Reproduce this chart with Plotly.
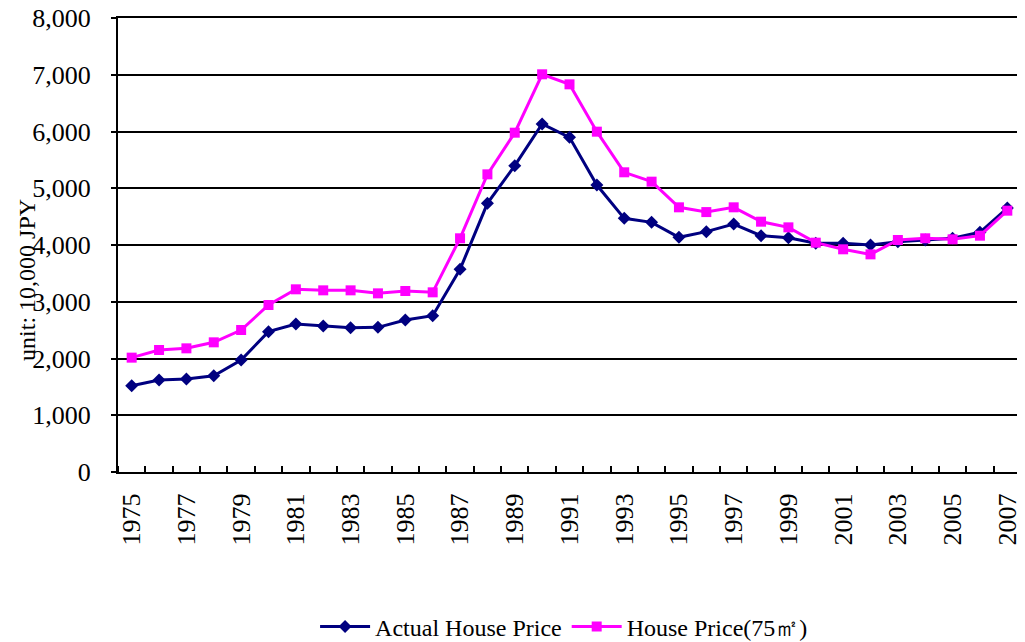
import plotly.graph_objects as go

years = list(range(1975, 2008))
actual_price = [1520, 1621, 1639, 1697, 1974, 2473, 2608, 2573, 2543, 2549, 2678, 2755,
                3571, 4734, 5398, 6132, 5897, 5057, 4470, 4399, 4135, 4235, 4370, 4164,
                4129, 4030, 4030, 4000, 4059, 4088, 4118, 4224, 4650]
house_price_75 = [2015, 2150, 2179, 2285, 2502, 2943, 3219, 3201, 3201, 3148, 3189, 3166,
                  4118, 5245, 5979, 7008, 6831, 5997, 5281, 5116, 4664, 4580, 4664, 4411,
                  4311, 4041, 3924, 3835, 4088, 4118, 4100, 4164, 4605]
tick_years = years[::2]
tick_text = [str(y) for y in tick_years]
y_ticks = [0, 1000, 2000, 3000, 4000, 5000, 6000, 7000, 8000]

FONT = "Liberation Serif, Times New Roman, serif"

fig = go.Figure()
fig.add_trace(go.Scatter(
    x=years, y=actual_price, name="Actual House Price", mode="lines+markers",
    line=dict(color="#000080", width=3),
    marker=dict(symbol="diamond", size=10, color="#000080"),
))
fig.add_trace(go.Scatter(
    x=years, y=house_price_75, name="House Price(75㎡)", mode="lines+markers",
    line=dict(color="#FF00FF", width=3),
    marker=dict(symbol="square", size=10, color="#FF00FF"),
))

fig.update_layout(
    width=1017, height=634,
    margin=dict(l=110, r=4, t=10, b=170),
    paper_bgcolor="white", plot_bgcolor="white",
    font=dict(family=FONT, size=24, color="black"),
    showlegend=True,
    legend=dict(orientation="h", x=0.494, xanchor="center",
                yref="container", y=0.024, yanchor="middle", itemwidth=50,
                font=dict(family=FONT, size=24, color="black"), bgcolor="rgba(0,0,0,0)"),
    xaxis=dict(
        range=[1974.5, 2007.5], tickmode="array", tickvals=tick_years, ticktext=tick_text,
        tickangle=-90, ticks="", ticklabelstandoff=9, automargin=False,
        ticklabeloverflow="allow",
        showgrid=False, zeroline=False,
        showline=True, linecolor="black", linewidth=2, mirror=True,
        minor=dict(tick0=1974.5, dtick=1, ticks="inside", ticklen=6, tickcolor="black",
                   tickwidth=1.5, showgrid=False),
        tickfont=dict(family=FONT, size=26, color="black"),
    ),
    yaxis=dict(
        range=[0, 8000], tickmode="array", tickvals=y_ticks,
        ticktext=[f"{v:,}" for v in y_ticks],
        ticks="outside", ticklen=5, tickwidth=1.5, tickcolor="black",
        ticklabelstandoff=15, automargin=False,
        ticklabeloverflow="allow",
        showgrid=True, gridcolor="black", gridwidth=1.5, zeroline=False,
        showline=True, linecolor="black", linewidth=2, mirror=True,
        tickfont=dict(family=FONT, size=26, color="black"),
    ),
    annotations=[dict(
        text="unit: 10,000 JPY", xref="paper", yref="paper",
        x=-0.1008, y=0.423, xanchor="center", yanchor="middle",
        textangle=-90, showarrow=False,
        font=dict(family=FONT, size=24, color="black"),
    )],
)

fig.write_html("out.html")
